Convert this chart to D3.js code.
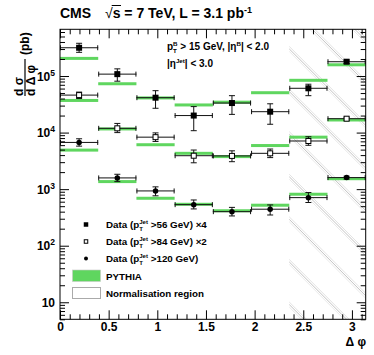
<!DOCTYPE html>
<html><head><meta charset="utf-8">
<script src="https://cdn.jsdelivr.net/npm/d3@7"></script>
<style>
body{margin:0;background:#fff}
svg{display:block}
text{font-family:"Liberation Sans",Arial,Helvetica,sans-serif;font-weight:bold;fill:#000;white-space:pre}
</style>
</head><body>
<svg id="c" width="374" height="355"></svg>
<script>
// ---------------- data ----------------
const binEdges = [0, Math.PI/8, 2*Math.PI/8, 3*Math.PI/8, 4*Math.PI/8, 5*Math.PI/8, 6*Math.PI/8, 7*Math.PI/8, Math.PI];
const normRegion = [6*Math.PI/8, Math.PI];

const data56   = [3.16e5, 1.08e5, 4.14e4, 2.0e4, 3.33e4, 2.34e4, 6.07e4, 1.79e5];
const err56Up  = [0.20, 0.24, 0.33, 0.44, 0.35, 0.38, 0.18, 0.07];
const err56Dn  = [0.17, 0.25, 0.35, 0.46, 0.37, 0.40, 0.26, 0.07];
const pythia56 = [2.05e5, 7.3e4, 4.1e4, 3.08e4, 3.45e4, 5.07e4, 8.4e4, 1.58e5];

const data84   = [4.6e4, 1.19e4, 8.3e3, 3.9e3, 3.87e3, 4.3e3, 7.1e3, 1.76e4];
const err84Up  = [0.13, 0.22, 0.19, 0.26, 0.23, 0.19, 0.19, 0.06];
const err84Dn  = [0.13, 0.16, 0.16, 0.25, 0.21, 0.16, 0.16, 0.06];
const pythia84 = [3.7e4, 1.16e4, 6.1e3, 4.3e3, 3.76e3, 5.9e3, 8.3e3, 1.67e4];

const data120   = [6.7e3, 1.58e3, 930, 532, 400, 442, 708, 1.6e3];
const err120Up  = [0.16, 0.16, 0.18, 0.21, 0.19, 0.19, 0.23, 0.06];
const err120Dn  = [0.14, 0.14, 0.18, 0.16, 0.16, 0.21, 0.18, 0.06];
const pythia120 = [4.9e3, 1.36e3, 690, 540, 415, 520, 813, 1.53e3];

const xMajorTicks = [0, 0.5, 1, 1.5, 2, 2.5, 3];
const xTickLabels = ["0", "0.5", "1", "1.5", "2", "2.5", "3"];
const yMajorTicks = [10, 100, 1000, 10000, 100000];
const yTickExp    = ["", "2", "3", "4", "5"];

const legendLabels = [
  {pre: "Data (p", sub: "T", sup: "Jet", post: " >56 GeV) \u00d74", marker: "fsq"},
  {pre: "Data (p", sub: "T", sup: "Jet", post: " >84 GeV) \u00d72", marker: "osq"},
  {pre: "Data (p", sub: "T", sup: "Jet", post: " >120 GeV)", marker: "circ"},
  {pre: "PYTHIA", marker: "box"},
  {pre: "Normalisation region", marker: "norm"}
];

// ---------------- layout ----------------
const svg = d3.select("#c");
const L = 60, R = 365.7, T = 29.3, B = 319.3;
const x = d3.scaleLinear().domain([0, Math.PI]).range([L, R]);
const y = d3.scaleLog().domain([5, 6.7e5]).range([B, T]);
const green = "#5fd65f";

// hatch normalisation region
svg.append("clipPath").attr("id", "nclip").append("rect")
  .attr("x", x(normRegion[0])).attr("y", T).attr("width", x(normRegion[1]) - x(normRegion[0])).attr("height", B - T);
const hatch = svg.append("g").attr("clip-path", "url(#nclip)");
const hx0 = x(normRegion[0]);
const spacing = 42.6;
for (let k = 0; k < 10; k++) {
  const c = -328 + k * spacing;  // y = x + c (pixel space)
  [[0, "#cfcfcf"], [2.5, "#9a9a9a"], [5, "#dadada"]].forEach(([o, col]) => {
    hatch.append("line")
      .attr("x1", hx0 - 10).attr("y1", hx0 - 10 + c + o)
      .attr("x2", R + 10).attr("y2", R + 10 + c + o)
      .attr("stroke", col).attr("stroke-width", 0.6);
  });
}

// PYTHIA lines
const plot = svg.append("g");
[pythia56, pythia84, pythia120].forEach(arr => {
  plot.selectAll(null).data(arr).enter().append("rect")
    .attr("x", (d, i) => x(binEdges[i]))
    .attr("width", (d, i) => x(binEdges[i + 1]) - x(binEdges[i]))
    .attr("y", d => y(d) - 1.5).attr("height", 3)
    .attr("fill", green);
});

// data series
const series = [
  {v: data56, up: err56Up, dn: err56Dn, m: "fsq"},
  {v: data84, up: err84Up, dn: err84Dn, m: "osq"},
  {v: data120, up: err120Up, dn: err120Dn, m: "circ"}
];
function marker(g, type, cx, cy, s) {
  if (type === "fsq") g.append("rect").attr("x", cx - s/2).attr("y", cy - s/2).attr("width", s).attr("height", s).attr("fill", "#000");
  else if (type === "osq") g.append("rect").attr("x", cx - s/2 + 0.5).attr("y", cy - s/2 + 0.5).attr("width", s - 1).attr("height", s - 1).attr("fill", "#fff").attr("stroke", "#000").attr("stroke-width", 1);
  else if (type === "circ") g.append("circle").attr("cx", cx).attr("cy", cy).attr("r", s/2).attr("fill", "#000");
}
series.forEach(s => {
  s.v.forEach((v, i) => {
    const g = plot.append("g");
    const x0 = x(binEdges[i]), x1 = x(binEdges[i + 1]), xc = (x0 + x1) / 2, yc = y(v);
    const st = "#111";
    g.append("line").attr("x1", x0).attr("x2", x1).attr("y1", yc).attr("y2", yc).attr("stroke", st).attr("stroke-width", 1);
    [x0 + 0.5, x1 - 0.5].forEach(xe => g.append("line").attr("x1", xe).attr("x2", xe).attr("y1", yc - 2.5).attr("y2", yc + 2.5).attr("stroke", st).attr("stroke-width", 1));
    const yu = y(v * (1 + s.up[i])), yd = y(v * (1 - s.dn[i]));
    g.append("line").attr("x1", xc).attr("x2", xc).attr("y1", yu).attr("y2", yd).attr("stroke", st).attr("stroke-width", 1);
    [yu, yd].forEach(ye => g.append("line").attr("x1", xc - 3).attr("x2", xc + 3).attr("y1", ye).attr("y2", ye).attr("stroke", st).attr("stroke-width", 1));
    marker(g, s.m, xc, yc, s.m === "circ" ? 5.5 : 6);
  });
});

// frame
svg.append("rect").attr("x", L).attr("y", T).attr("width", R - L).attr("height", B - T)
  .attr("fill", "none").attr("stroke", "#000").attr("stroke-width", 1);

// x axes (ticks inward)
const xMinor = d3.range(0, 32).map(i => i / 10).filter(v => v <= Math.PI && Math.abs(v * 2 - Math.round(v * 2)) > 1e-6);
function xAxis(major, orient, pos) {
  const mk = orient === "bottom" ? d3.axisBottom : d3.axisTop;
  const a1 = svg.append("g").attr("transform", `translate(0,${pos})`)
    .call(mk(x).tickValues(xMajorTicks).tickSize(-9).tickPadding(3).tickFormat((d, i) => major ? xTickLabels[i] : ""));
  const a2 = svg.append("g").attr("transform", `translate(0,${pos})`)
    .call(mk(x).tickValues(xMinor).tickSize(-5).tickFormat(""));
  [a1, a2].forEach(a => { a.select(".domain").remove(); a.selectAll("line").attr("stroke", "#000"); });
  a1.selectAll("text").attr("font-size", 12).attr("font-family", "Liberation Sans, Arial, sans-serif").attr("font-weight", "bold").attr("fill", "#000");
}
xAxis(true, "bottom", B);
xAxis(false, "top", T);

// y axes
const yMinor = [];
[1, 10, 100, 1000, 10000, 100000].forEach(dec => { for (let k = 2; k <= 9; k++) { const v = dec * k; if (v >= 5 && v <= 6.7e5) yMinor.push(v); } });
function yAxis(orient, pos) {
  const mk = orient === "left" ? d3.axisLeft : d3.axisRight;
  const a1 = svg.append("g").attr("transform", `translate(${pos},0)`).call(mk(y).tickValues(yMajorTicks).tickSize(-9).tickFormat(""));
  const a2 = svg.append("g").attr("transform", `translate(${pos},0)`).call(mk(y).tickValues(yMinor).tickSize(-5).tickFormat(""));
  [a1, a2].forEach(a => { a.select(".domain").remove(); a.selectAll("line").attr("stroke", "#000"); });
}
yAxis("left", L);
yAxis("right", R);

// y tick labels
yMajorTicks.forEach((v, i) => {
  const t = svg.append("text").attr("x", 55).attr("y", y(v) + 4.5).attr("text-anchor", "end").attr("font-size", 12);
  t.append("tspan").text("10");
  if (yTickExp[i]) t.append("tspan").attr("dy", -5).attr("font-size", 8.5).text(yTickExp[i]);
});

// rich text helper
function rich(g, x0, yb, parts, fs) {
  let cx = x0;
  parts.forEach(p => {
    if (p.n !== undefined) {
      const t = g.append("text").attr("x", cx).attr("y", yb).attr("font-size", fs).text(p.n);
      cx += t.node().getComputedTextLength();
    } else {
      let w = 0;
      if (p.sub) { const t = g.append("text").attr("x", cx).attr("y", yb + fs * 0.3).attr("font-size", fs * 0.62).text(p.sub); w = Math.max(w, t.node().getComputedTextLength()); }
      if (p.sup) { const t = g.append("text").attr("x", cx).attr("y", yb - fs * 0.45).attr("font-size", fs * 0.62).text(p.sup); w = Math.max(w, t.node().getComputedTextLength()); }
      cx += w;
    }
  });
  return cx;
}

// title
svg.append("text").attr("x", 60).attr("y", 18).attr("font-size", 14).text("CMS");
const tt = svg.append("text").attr("x", 105).attr("y", 18).attr("font-size", 14);
tt.append("tspan").attr("font-weight", "normal").text("\u221a");
tt.append("tspan").text("s = 7 TeV, L = 3.1 pb");
tt.append("tspan").attr("dy", -5).attr("font-size", 9).text("-1");
{
  const n = tt.node();
  const w0 = n.getSubStringLength(0, 1), w1 = n.getSubStringLength(1, 1);
  svg.append("line").attr("x1", 105 + w0 - 1).attr("x2", 105 + w0 + w1 + 0.5).attr("y1", 5.5).attr("y2", 5.5).attr("stroke", "#000").attr("stroke-width", 1);
}

// annotation
const ann = svg.append("g");
rich(ann, 167, 50, [{n: "p"}, {sub: "T", sup: "B"}, {n: " > 15 GeV, |\u03b7"}, {sup: "B"}, {n: "| < 2.0"}], 10);
rich(ann, 167, 67, [{n: "|\u03b7"}, {sup: "Jet"}, {n: "| < 3.0"}], 10);

// y axis title (rotated)
const yl = svg.append("g").attr("transform", "translate(25,96) rotate(-90)");
yl.append("text").attr("x", 0).attr("y", -2.5).attr("font-size", 12).text("d \u03c3");
yl.append("text").attr("x", 0).attr("y", 10).attr("font-size", 12).text("d \u0394 \u03c6");
yl.append("line").attr("x1", 0).attr("x2", 37).attr("y1", 0).attr("y2", 0).attr("stroke", "#000").attr("stroke-width", 1.2);
yl.append("text").attr("x", 41).attr("y", 4).attr("font-size", 12).text("(pb)");

// x axis title
svg.append("text").attr("x", 366).attr("y", 346).attr("text-anchor", "end").attr("font-size", 12).attr("font-weight", "normal").text("\u0394 \u03c6");

// legend
const lg = svg.append("g");
const rowsY = [224.5, 241.5, 258.5, 276, 293];
legendLabels.forEach((d, i) => {
  const yy = rowsY[i];
  if (d.marker === "box") lg.append("rect").attr("x", 72.5).attr("y", yy - 6).attr("width", 28).attr("height", 11.5).attr("fill", green).attr("stroke", "#c8c8c8").attr("stroke-width", 0.6);
  else if (d.marker === "norm") lg.append("rect").attr("x", 72.5).attr("y", yy - 5.5).attr("width", 28).attr("height", 11).attr("fill", "#fff").attr("stroke", "#aaa").attr("stroke-width", 1);
  else marker(lg, d.marker, 86, yy, d.marker === "circ" ? 4 : 4.5);
  const parts = d.sub ? [{n: d.pre}, {sub: d.sub, sup: d.sup}, {n: d.post}] : [{n: d.pre}];
  rich(lg, 106, yy + 3.5, parts, 9.8);
});
</script>
</body></html>
